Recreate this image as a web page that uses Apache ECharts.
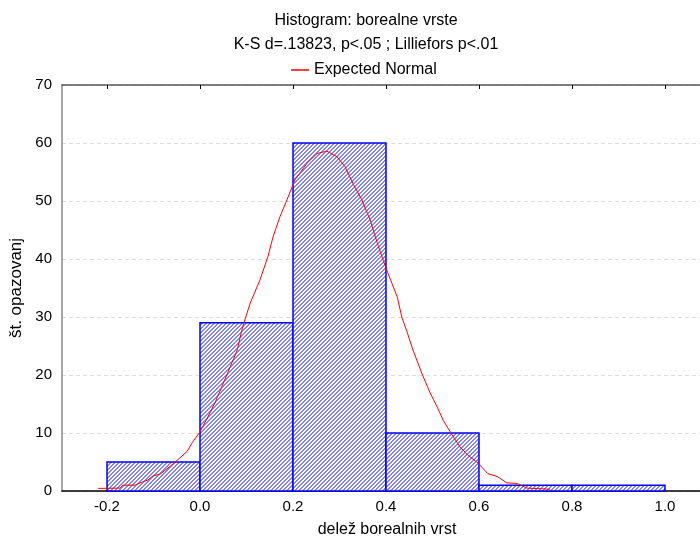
<!DOCTYPE html>
<html>
<head>
<meta charset="utf-8">
<script src="https://cdn.jsdelivr.net/npm/echarts@6/dist/echarts.min.js"></script>
<style>
html,body{margin:0;padding:0;background:#fff;}
#c{width:700px;height:538px;}
</style>
</head>
<body>
<div id="c"></div>
<script>
// ---- data ----
var binStarts = [-0.2, 0.0, 0.2, 0.4, 0.6, 0.8];
var binEnds   = [ 0.0, 0.2, 0.4, 0.6, 0.8, 1.0];
var counts    = [5, 29, 60, 10, 1, 1];
var curveX = [-0.219,-0.172,-0.166,-0.140,-0.129,-0.112,-0.101,-0.086,-0.065,-0.049,-0.028,-0.017,0.000,0.017,0.032,0.047,0.065,0.080,0.092,0.108,0.129,0.146,0.157,0.172,0.187,0.204,0.230,0.252,0.273,0.295,0.312,0.329,0.348,0.366,0.381,0.394,0.404,0.424,0.434,0.445,0.458,0.477,0.495,0.510,0.523,0.542,0.559,0.576,0.598,0.619,0.639,0.660,0.682,0.703,0.753];
var curveY = [0.45,0.5,1.0,1.0,1.4,1.9,2.6,2.9,4.2,5.3,6.8,8.3,10.2,12.8,15.2,18.0,21.4,24.3,28.4,32.4,36.4,40.4,43.8,47.3,50.2,53.6,56.5,58.2,58.6,57.6,55.9,53.0,50.2,46.7,42.8,39.8,37.6,33.5,30.0,27.5,24.3,20.3,16.9,14.5,12.2,9.7,7.6,6.2,4.8,3.0,2.5,1.4,1.3,0.5,0.3];
var xTicks = [-0.2, 0.0, 0.2, 0.4, 0.6, 0.8, 1.0];
var titleText = 'Histogram: borealne vrste';
var subText = 'K-S d=.13823, p<.05 ; Lilliefors p<.01';
var legendName = 'Expected Normal';
var xName = 'delež borealnih vrst';
var yName = 'št. opazovanj';

// ---- build ----
var font = 'Arial, "Liberation Sans", sans-serif';
var pc = document.createElement('canvas');
pc.width = 4; pc.height = 4;
var pctx = pc.getContext('2d');
pctx.fillStyle = '#ffffff'; pctx.fillRect(0,0,4,4);
pctx.fillStyle = '#8484f2';
for (var yy = 0; yy < 4; yy++) for (var xx = 0; xx < 4; xx++) {
  if ((xx + yy) % 4 < 2) pctx.fillRect(xx, yy, 1, 1);
}

var barData = binStarts.map(function(s, i){ return [s, binEnds[i], counts[i]]; });
var curveData = curveX.map(function(x, i){ return [x, curveY[i]]; });

var chart = echarts.init(document.getElementById('c'), null, {renderer:'canvas'});
chart.setOption({
  animation: false,
  backgroundColor: '#ffffff',
  textStyle: {fontFamily: font},
  title: [
    {text: titleText, left: 361, top: 8, textAlign: 'center',
     textStyle: {fontSize: 16, fontWeight: 'normal', color: '#000', fontFamily: font}},
    {text: subText, left: 361, top: 32, textAlign: 'center',
     textStyle: {fontSize: 16, fontWeight: 'normal', color: '#000', fontFamily: font}}
  ],
  legend: {
    data: [{name: legendName, icon: 'rect'}],
    left: 286, top: 57, itemWidth: 18, itemHeight: 1.5, itemGap: 9,
    textStyle: {fontSize: 16, color: '#000', fontFamily: font}
  },
  grid: {left: 62, right: 0, top: 85, bottom: 47, containLabel: false, outerBoundsMode: 'none'},
  xAxis: [{
    type: 'value', min: -0.2968, max: 1.0753,
    name: xName, nameLocation: 'middle', nameGap: 31,
    nameTextStyle: {fontSize: 16, color: '#000', padding: [0,0,0,12]},
    axisLine: {show: true, onZero: false, lineStyle: {color: '#000', width: 1.5}},
    axisTick: {show: false},
    axisLabel: {customValues: xTicks, fontSize: 15, color: '#000', margin: 8,
      formatter: function(v){ return v.toFixed(1); }},
    splitLine: {show: false}
  }, {
    type: 'value', position: 'top', min: -0.2968, max: 1.0753,
    axisLine: {show: true, onZero: false, lineStyle: {color: '#555', width: 1.5}},
    axisTick: {show: true, inside: true, customValues: xTicks, length: 4, lineStyle: {color: '#000'}},
    axisLabel: {show: false},
    splitLine: {show: false}
  }],
  yAxis: {
    type: 'value', min: 0, max: 70, interval: 10,
    name: yName, nameLocation: 'middle', nameGap: 35, nameRotate: 90,
    nameTextStyle: {fontSize: 17, color: '#000', padding: [0,0,0,0]},
    axisLine: {show: true, onZero: false, lineStyle: {color: '#888', width: 1.5}},
    axisTick: {show: false},
    axisLabel: {fontSize: 15, color: '#000', margin: 10},
    splitLine: {show: true, lineStyle: {color: '#dddddd', type: [4, 3], width: 1}}
  },
  series: [{
    type: 'custom',
    name: 'bars',
    xAxisIndex: 0,
    data: barData,
    encode: {x: [0, 1], y: 2},
    renderItem: function(params, api){
      var p0 = api.coord([api.value(0), api.value(2)]);
      var p1 = api.coord([api.value(1), 0]);
      return {
        type: 'rect',
        shape: {x: p0[0], y: p0[1], width: p1[0] - p0[0], height: p1[1] - p0[1]},
        style: {fill: {image: pc, repeat: 'repeat'}, stroke: '#0000ff', lineWidth: 1.5}
      };
    },
    z: 2
  }, {
    type: 'line',
    name: legendName,
    xAxisIndex: 0,
    data: curveData,
    showSymbol: false,
    symbol: 'none',
    smooth: false,
    color: '#ff0000',
    lineStyle: {color: '#ff0000', width: 1},
    z: 5
  }]
});
</script>
</body>
</html>
